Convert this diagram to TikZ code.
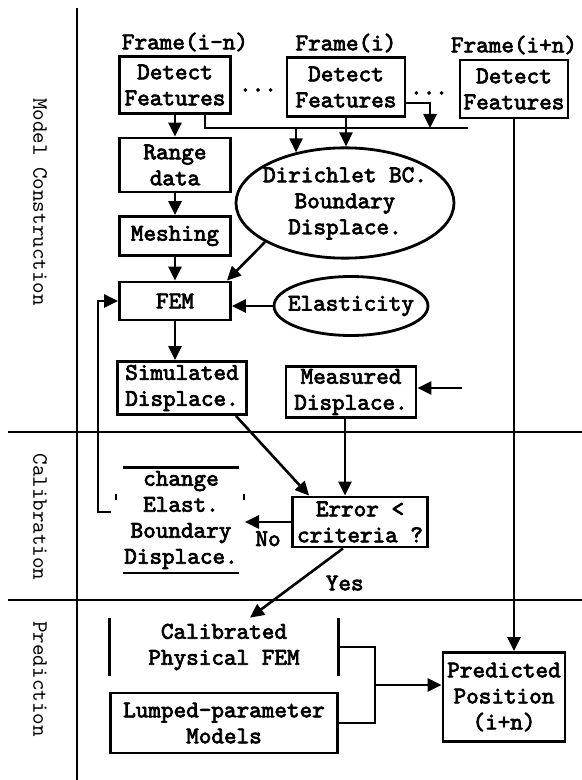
\documentclass[tikz,border=0pt]{standalone}
\usepackage{fontspec}
\setmonofont{lmmono10-regular.otf}[BoldFont=lmmono10-regular.otf, BoldFeatures={FakeBold=3}]
\usetikzlibrary{shapes.geometric, positioning, arrows.meta, calc}

\begin{document}
\begin{tikzpicture}[x=0.5pt, y=-0.5pt, >={Triangle[length=7pt, width=6.5pt]}, font=\ttfamily\fontsize{12}{13}\selectfont\bfseries, line width=1.3pt]
\tikzset{
    block/.style={draw, rectangle, line width=1.4pt, inner sep=1pt, align=center},
    oval/.style={draw, ellipse, line width=1.4pt, inner sep=0pt},
    tag/.style={inner sep=0pt},
    lane/.style={font=\ttfamily\fontsize{11}{12}\selectfont\mdseries, rotate=-90, inner sep=0pt}
}
\useasboundingbox (0,0) rectangle (582,780);
% lanes
\draw[line width=1.2pt] (77,8) -- (77,780);
\draw[line width=1.2pt] (8,432) -- (582,432); \draw[line width=1.2pt] (8,600) -- (582,600);
\node[lane] (LaneModel) at (40,202) {Model Construction};
\node[lane] (LaneCal) at (40,517) {Calibration};
\node[lane] (LanePred) at (40,679) {Prediction};
% frames
\node[tag] (FrA) at (185,42) {Frame(i-n)}; \node[tag] (FrB) at (346,43) {Frame(i)}; \node[tag] (FrC) at (514,45) {Frame(i+n)};
\node[block, minimum width=55.5pt, minimum height=28.5pt] (DetA) at (175,85) {Detect\\Features};
\node[block, minimum width=59pt, minimum height=29.5pt] (DetB) at (346,87) {Detect\\Features};
\node[block, minimum width=54pt, minimum height=29pt] (DetC) at (514,89) {Detect\\Features};
\node[tag] (DotsA) at (258,90) {...}; \node[tag] (DotsB) at (429,93) {...};
% model construction
\node[block, minimum width=55.5pt, minimum height=27pt] (Range) at (175,165) {Range\\data};
\node[block, minimum width=55.5pt, minimum height=19.5pt] (Mesh) at (175,236) {Meshing};
\node[block, minimum width=55.5pt, minimum height=19pt] (FEM) at (175,301) {FEM};
\node[oval, minimum width=109pt, minimum height=55pt] (Dir) at (345,203) {\makebox[0pt]{\begin{tabular}{@{}c@{}}Dirichlet BC.\\Boundary\\Displace.\end{tabular}}};
\node[oval, minimum width=77pt, minimum height=29.5pt] (Elast) at (351,306) {\makebox[0pt]{Elasticity}};
\node[block, minimum width=64.5pt, minimum height=26.5pt] (Sim) at (182,388) {Simulated\\Displace.};
\node[block, minimum width=65pt, minimum height=25.5pt] (Meas) at (351,392) {Measured\\Displace.};
\coordinate (BusR) at (468,128); \coordinate (BusIn) at (430,128); \coordinate (MeasIn) at (462,388);
\draw ([xshift=15pt]DetA.south) |- (BusR);
\draw[->] ([yshift=-8pt]DetB.east) -| (BusIn);
\draw[->] (Dir.134 |- BusR) -- (Dir.134);
\draw[->] (DetB.south) -- (DetB.south |- Dir.north);
\draw[->] (DetA) -- (Range); \draw[->] (Range) -- (Mesh); \draw[->] (Mesh) -- (FEM);
\draw[->] (Dir.206) -- ([xshift=-2.5pt]FEM.north east);
\draw[->] (Elast.west) -- (FEM.east |- Elast.west);
\draw[->] (FEM) -- (FEM |- Sim.north);
\draw[->] (MeasIn) -- (Meas.east |- MeasIn);
% calibration
\node[block, minimum width=67.5pt, minimum height=25pt] (Err) at (360,522) {Error <\\criteria ?};
\node[inner sep=0pt, align=center, minimum width=56pt, minimum height=51.5pt] (Chg) at (181,520) {change\\Elast.\\Boundary\\Displace.};
\draw (Chg.north west) -- (Chg.north east); \draw (Chg.south west) -- (Chg.south east);
\draw ([shift={(-3.5pt,13pt)}]Chg.west) -- ++(0,6); \draw ([shift={(2.5pt,13pt)}]Chg.east) -- ++(0,6);
\draw[->] ([xshift=-3pt]Meas.south) -- ([xshift=-3pt]Meas.south |- Err.north);
\draw[->] ([xshift=-6pt]Sim.south east) -- ([xshift=9pt]Err.north west);
\draw[->] (Err.west) -- ([xshift=3pt]Chg.east |- Err.west) node[midway, below=4pt, inner sep=0pt] (No) {No};
\draw[->] ([shift={(-6pt,4pt)}]Chg.west) -- ++(-13,0) |- (FEM.west);
% prediction
\node[inner sep=1pt, align=center, minimum width=113pt, minimum height=28pt] (Cal) at (224,647) {Calibrated\\Physical FEM};
\draw (Cal.north west) -- (Cal.south west); \draw (Cal.north east) -- (Cal.south east);
\node[block, minimum width=113.5pt, minimum height=30pt] (Lump) at (224,723) {Lumped-parameter\\Models};
\node[block, minimum width=61pt, minimum height=44.5pt] (Pred) at (504,697) {Predicted\\Position\\(i+n)};
\draw[->] ([xshift=-8.5pt]Err.south) -- ([xshift=13pt]Cal.north) node[midway, right=14pt, inner sep=0pt] (Yes) {Yes};
\coordinate (Join) at (375,685);
\draw (Cal.east) -| (Join) |- (Lump.east);
\draw[->] (Join) -- (Join -| Pred.west);
\draw[->] (DetC.south) -- (DetC.south |- Pred.north);
\end{tikzpicture}
\end{document}
